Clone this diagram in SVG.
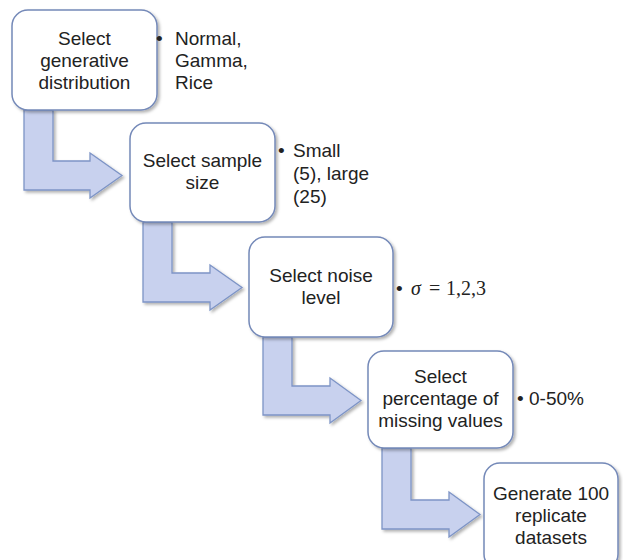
<svg xmlns="http://www.w3.org/2000/svg" width="623" height="560" viewBox="0 0 623 560">
<defs>
<filter id="sh" x="-10%" y="-10%" width="130%" height="130%">
<feDropShadow dx="2" dy="2" stdDeviation="1.5" flood-color="#000" flood-opacity="0.3"/>
</filter>
<style>
.box{fill:#ffffff;stroke:#7489b8;stroke-width:1.5;filter:url(#sh)}
.arr{fill:#c8d1ee;stroke:#7d94c6;stroke-width:1.3;filter:url(#sh)}
.t{font-family:"Liberation Sans",Arial,sans-serif;font-size:19px;fill:#222;text-anchor:middle}
.b{font-family:"Liberation Sans",Arial,sans-serif;font-size:19px;fill:#222}
.m{font-family:"Liberation Serif","Times New Roman",serif;font-size:20px;fill:#222}
</style>
</defs>
<rect width="623" height="560" fill="#ffffff"/>
<g id="connectors">
<path class="arr" d="M24,110 H53 V161 H90 V153 L122,175.5 L90,198 V190 H24 Z"/>
<path class="arr" d="M143,222 H172 V273 H210 V265 L242,287.5 L210,310 V302 H143 Z"/>
<path class="arr" d="M263,337 H292 V386 H330 V378 L361,400.5 L330,423 V415 H263 Z"/>
<path class="arr" d="M382,448 H411 V500 H449 V492 L480,514.5 L449,537 V529 H382 Z"/>
</g>
<g id="node1">
<rect class="box" x="12" y="10" width="145" height="100" rx="16"/>
<text class="t" x="84.5" y="45">Select</text>
<text class="t" x="84.5" y="67">generative</text>
<text class="t" x="84.5" y="89">distribution</text>
</g>
<g id="note1">
<text class="b" x="156" y="45">•</text>
<text class="b" x="175" y="45">Normal,</text>
<text class="b" x="175" y="67">Gamma,</text>
<text class="b" x="175" y="89">Rice</text>
</g>
<g id="node2">
<rect class="box" x="130" y="123" width="145" height="99" rx="16"/>
<text class="t" x="202.5" y="167">Select sample</text>
<text class="t" x="202.5" y="189">size</text>
</g>
<g id="note2">
<text class="b" x="278" y="157">•</text>
<text class="b" x="293" y="157">Small</text>
<text class="b" x="293" y="180">(5), large</text>
<text class="b" x="293" y="203">(25)</text>
</g>
<g id="node3">
<rect class="box" x="249" y="237" width="144" height="100" rx="16"/>
<text class="t" x="321" y="282">Select noise</text>
<text class="t" x="321" y="304">level</text>
</g>
<g id="note3">
<text class="b" x="396" y="295">•</text>
<text class="m" y="295"><tspan x="411" font-style="italic">σ</tspan><tspan x="429">=</tspan><tspan x="446">1,2,3</tspan></text>
</g>
<g id="node4">
<rect class="box" x="368" y="351" width="145" height="97" rx="16"/>
<text class="t" x="440.5" y="383">Select</text>
<text class="t" x="440.5" y="405">percentage of</text>
<text class="t" x="440.5" y="427">missing values</text>
</g>
<g id="note4">
<text class="b" x="517" y="405">•</text>
<text class="b" x="529" y="405">0-50%</text>
</g>
<g id="node5">
<rect class="box" x="484" y="463" width="134" height="107" rx="16"/>
<text class="t" x="551" y="500">Generate 100</text>
<text class="t" x="551" y="522">replicate</text>
<text class="t" x="551" y="544">datasets</text>
</g>
</svg>
